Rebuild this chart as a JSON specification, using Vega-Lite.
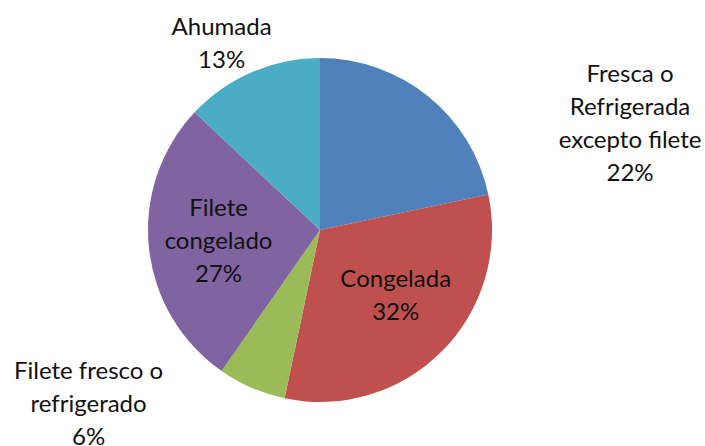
{
  "$schema": "https://vega.github.io/schema/vega-lite/v6.json",
  "width": 640,
  "height": 460,
  "autosize": {"type": "none"},
  "padding": {"left": 0, "top": 0, "right": 65, "bottom": 0},
  "background": "white",
  "config": {"view": {"stroke": null}, "text": {"font": "Lato", "fontSize": 24, "lineHeight": 33, "color": "#111111"}},
  "data": {
    "values": [
      {"category": "Fresca o Refrigerada excepto filete", "value": 21.7, "order": 1, "label": "Fresca o\nRefrigerada\nexcepto filete\n22%"},
      {"category": "Congelada", "value": 31.6, "order": 2, "label": "Congelada\n32%"},
      {"category": "Filete fresco o refrigerado", "value": 6.4, "order": 3, "label": "Filete fresco o\nrefrigerado\n6%"},
      {"category": "Filete congelado", "value": 27.3, "order": 4, "label": "Filete\ncongelado\n27%"},
      {"category": "Ahumada", "value": 13.0, "order": 5, "label": "Ahumada\n13%"}
    ]
  },
  "encoding": {
    "theta": {"field": "value", "type": "quantitative", "stack": true},
    "order": {"field": "order", "type": "quantitative"}
  },
  "layer": [
    {
      "mark": {"type": "arc", "outerRadius": 172},
      "encoding": {
        "color": {
          "field": "category",
          "type": "nominal",
          "scale": {
            "domain": ["Fresca o Refrigerada excepto filete", "Congelada", "Filete fresco o refrigerado", "Filete congelado", "Ahumada"],
            "range": ["#4F81BD", "#C0504D", "#9BBB59", "#8064A2", "#4BACC6"]
          },
          "legend": null
        }
      }
    },
    {
      "mark": {"type": "text", "radius": 200, "dx": 184, "dy": 0, "lineBreak": "\n", "baseline": "middle", "align": "center"},
      "encoding": {"text": {"condition": {"test": "datum.order === 1", "field": "label"}, "value": ""}}
    },
    {
      "mark": {"type": "text", "radius": 100, "dx": 5, "dy": -21, "lineBreak": "\n", "baseline": "middle", "align": "center"},
      "encoding": {"text": {"condition": {"test": "datum.order === 2", "field": "label"}, "value": ""}}
    },
    {
      "mark": {"type": "text", "radius": 200, "dx": -152, "dy": -42, "lineBreak": "\n", "baseline": "middle", "align": "center"},
      "encoding": {"text": {"condition": {"test": "datum.order === 3", "field": "label"}, "value": ""}}
    },
    {
      "mark": {"type": "text", "radius": 102, "dx": 0, "dy": -32, "lineBreak": "\n", "baseline": "middle", "align": "center"},
      "encoding": {"text": {"condition": {"test": "datum.order === 4", "field": "label"}, "value": ""}}
    },
    {
      "mark": {"type": "text", "radius": 200, "dx": -19, "dy": -18, "lineBreak": "\n", "baseline": "middle", "align": "center"},
      "encoding": {"text": {"condition": {"test": "datum.order === 5", "field": "label"}, "value": ""}}
    }
  ]
}
